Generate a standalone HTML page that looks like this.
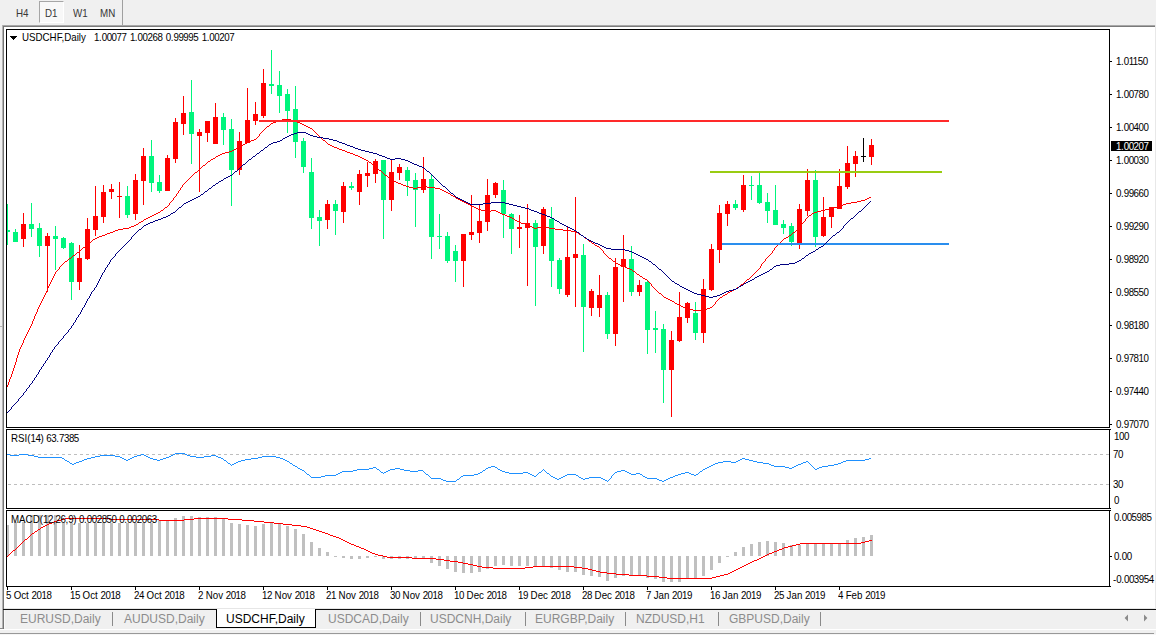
<!DOCTYPE html>
<html><head><meta charset="utf-8"><title>USDCHF,Daily</title>
<style>
html,body{margin:0;padding:0;background:#f0f0f0;}
#root{position:relative;width:1156px;height:635px;overflow:hidden;background:#f0f0f0;font-family:"Liberation Sans",sans-serif;}
.t{position:absolute;white-space:nowrap;line-height:1.15;}
.abs{position:absolute;}
.n{letter-spacing:-0.51px;}
.s{transform:scaleX(0.92);transform-origin:0 0;}
</style></head><body>
<div id="root">
<!-- toolbar -->
<div class="abs" style="left:39px;top:1px;width:23px;height:20px;border:1px solid #fff;border-top-color:#a6a6a6;border-left-color:#a6a6a6;background:#f8f8f8;"></div>
<div class="abs" style="left:122px;top:0;width:1px;height:25px;background:#a0a0a0;"></div>
<!-- window frame -->
<div class="abs" style="left:2px;top:25px;width:1153px;height:583px;background:#fff;"></div>
<div class="abs" style="left:2px;top:25px;width:1153px;height:1px;background:#a8a8a8;"></div>
<div class="abs" style="left:2px;top:26px;width:1153px;height:1px;background:#7a7a7a;"></div>
<div class="abs" style="left:2px;top:25px;width:1px;height:604px;background:#b4b4b4;"></div>
<div class="abs" style="left:3px;top:26px;width:1px;height:603px;background:#747474;"></div>
<div class="abs" style="left:1155px;top:25px;width:1px;height:584px;background:#e8e8e8;"></div>
<div class="abs" style="left:0;top:326px;width:2px;height:1px;background:#b4b4b4;"></div>
<!-- tab bar -->
<div class="abs" style="left:4px;top:608px;width:1152px;height:1px;background:#e6e6e6;"></div>
<div class="abs" style="left:3px;top:609px;width:1153px;height:1px;background:#101010;"></div>
<div class="abs" style="left:4px;top:610px;width:1px;height:18px;background:#fbfbfb;"></div>
<div class="abs" style="left:216px;top:609px;width:98px;height:18px;background:#fff;border:1px solid #000;border-top:none;"></div>
<div class="abs" style="left:112px;top:612px;width:1px;height:14px;background:#8a8a8a;"></div>
<div class="abs" style="left:420px;top:612px;width:1px;height:14px;background:#8a8a8a;"></div>
<div class="abs" style="left:525px;top:612px;width:1px;height:14px;background:#8a8a8a;"></div>
<div class="abs" style="left:625px;top:612px;width:1px;height:14px;background:#8a8a8a;"></div>
<div class="abs" style="left:718px;top:612px;width:1px;height:14px;background:#8a8a8a;"></div>
<div class="abs" style="left:820px;top:612px;width:1px;height:14px;background:#8a8a8a;"></div>
<div class="abs" style="left:0;top:628px;width:3px;height:1px;background:#8c8c8c;"></div>
<div class="abs" style="left:0;top:629px;width:1156px;height:1px;background:#ffffff;"></div>
<div class="abs" style="left:0;top:633px;width:1154px;height:1px;background:#989898;"></div>
<div class="abs" style="left:0;top:634px;width:1156px;height:1px;background:#f6f6f6;"></div>
<svg class="abs" style="left:0;top:0" width="1156" height="635" viewBox="0 0 1156 635">
<g shape-rendering="crispEdges"><rect x="7" y="204" width="1" height="41" fill="#00f57c"/><rect x="7" y="230" width="3" height="2" fill="#00f57c"/><rect x="15" y="229" width="1" height="13" fill="#00f57c"/><rect x="13" y="232" width="5" height="10" fill="#00f57c"/><rect x="23" y="213" width="1" height="34" fill="#ff0000"/><rect x="21" y="224" width="5" height="15" fill="#ff0000"/><rect x="31" y="203" width="1" height="34" fill="#00f57c"/><rect x="29" y="224" width="5" height="5" fill="#00f57c"/><rect x="39" y="223" width="1" height="34" fill="#00f57c"/><rect x="37" y="228" width="5" height="18" fill="#00f57c"/><rect x="47" y="233" width="1" height="59" fill="#ff0000"/><rect x="45" y="236" width="5" height="10" fill="#ff0000"/><rect x="55" y="226" width="1" height="44" fill="#00f57c"/><rect x="53" y="236" width="5" height="3" fill="#00f57c"/><rect x="63" y="237" width="1" height="12" fill="#00f57c"/><rect x="61" y="238" width="5" height="10" fill="#00f57c"/><rect x="71" y="242" width="1" height="58" fill="#00f57c"/><rect x="69" y="243" width="5" height="39" fill="#00f57c"/><rect x="79" y="245" width="1" height="45" fill="#ff0000"/><rect x="77" y="258" width="5" height="24" fill="#ff0000"/><rect x="87" y="218" width="1" height="42" fill="#ff0000"/><rect x="85" y="229" width="5" height="30" fill="#ff0000"/><rect x="95" y="186" width="1" height="50" fill="#ff0000"/><rect x="93" y="216" width="5" height="14" fill="#ff0000"/><rect x="103" y="185" width="1" height="38" fill="#ff0000"/><rect x="101" y="192" width="5" height="25" fill="#ff0000"/><rect x="111" y="184" width="1" height="15" fill="#ff0000"/><rect x="109" y="189" width="5" height="3" fill="#ff0000"/><rect x="119" y="182" width="1" height="36" fill="#ff0000"/><rect x="117" y="196" width="5" height="1" fill="#ff0000"/><rect x="127" y="186" width="1" height="32" fill="#00f57c"/><rect x="125" y="196" width="5" height="19" fill="#00f57c"/><rect x="135" y="174" width="1" height="46" fill="#ff0000"/><rect x="133" y="180" width="5" height="34" fill="#ff0000"/><rect x="143" y="148" width="1" height="57" fill="#ff0000"/><rect x="141" y="156" width="5" height="25" fill="#ff0000"/><rect x="151" y="140" width="1" height="52" fill="#00f57c"/><rect x="149" y="156" width="5" height="27" fill="#00f57c"/><rect x="159" y="175" width="1" height="18" fill="#00f57c"/><rect x="157" y="182" width="5" height="9" fill="#00f57c"/><rect x="167" y="155" width="1" height="36" fill="#ff0000"/><rect x="165" y="158" width="5" height="33" fill="#ff0000"/><rect x="175" y="118" width="1" height="45" fill="#ff0000"/><rect x="173" y="122" width="5" height="37" fill="#ff0000"/><rect x="183" y="96" width="1" height="39" fill="#ff0000"/><rect x="181" y="113" width="5" height="11" fill="#ff0000"/><rect x="191" y="80" width="1" height="84" fill="#00f57c"/><rect x="189" y="112" width="5" height="22" fill="#00f57c"/><rect x="199" y="129" width="1" height="63" fill="#ff0000"/><rect x="197" y="132" width="5" height="4" fill="#ff0000"/><rect x="207" y="121" width="1" height="21" fill="#ff0000"/><rect x="205" y="121" width="5" height="12" fill="#ff0000"/><rect x="215" y="103" width="1" height="41" fill="#ff0000"/><rect x="213" y="117" width="5" height="27" fill="#ff0000"/><rect x="223" y="113" width="1" height="32" fill="#00f57c"/><rect x="221" y="117" width="5" height="13" fill="#00f57c"/><rect x="231" y="119" width="1" height="87" fill="#00f57c"/><rect x="229" y="129" width="5" height="41" fill="#00f57c"/><rect x="239" y="132" width="1" height="43" fill="#ff0000"/><rect x="237" y="141" width="5" height="29" fill="#ff0000"/><rect x="247" y="88" width="1" height="55" fill="#ff0000"/><rect x="245" y="120" width="5" height="23" fill="#ff0000"/><rect x="255" y="102" width="1" height="23" fill="#ff0000"/><rect x="253" y="114" width="5" height="7" fill="#ff0000"/><rect x="263" y="69" width="1" height="49" fill="#ff0000"/><rect x="261" y="83" width="5" height="33" fill="#ff0000"/><rect x="271" y="50" width="1" height="44" fill="#00f57c"/><rect x="269" y="84" width="5" height="2" fill="#00f57c"/><rect x="279" y="71" width="1" height="42" fill="#00f57c"/><rect x="277" y="85" width="5" height="11" fill="#00f57c"/><rect x="287" y="89" width="1" height="44" fill="#00f57c"/><rect x="285" y="94" width="5" height="17" fill="#00f57c"/><rect x="295" y="86" width="1" height="72" fill="#00f57c"/><rect x="293" y="109" width="5" height="33" fill="#00f57c"/><rect x="303" y="138" width="1" height="35" fill="#00f57c"/><rect x="301" y="141" width="5" height="26" fill="#00f57c"/><rect x="311" y="158" width="1" height="71" fill="#00f57c"/><rect x="309" y="172" width="5" height="46" fill="#00f57c"/><rect x="319" y="210" width="1" height="36" fill="#00f57c"/><rect x="317" y="217" width="5" height="4" fill="#00f57c"/><rect x="327" y="200" width="1" height="29" fill="#ff0000"/><rect x="325" y="204" width="5" height="16" fill="#ff0000"/><rect x="335" y="200" width="1" height="35" fill="#00f57c"/><rect x="333" y="204" width="5" height="7" fill="#00f57c"/><rect x="343" y="182" width="1" height="41" fill="#ff0000"/><rect x="341" y="186" width="5" height="26" fill="#ff0000"/><rect x="351" y="182" width="1" height="8" fill="#00f57c"/><rect x="349" y="186" width="5" height="2" fill="#00f57c"/><rect x="359" y="170" width="1" height="35" fill="#ff0000"/><rect x="357" y="174" width="5" height="18" fill="#ff0000"/><rect x="367" y="162" width="1" height="25" fill="#ff0000"/><rect x="365" y="173" width="5" height="3" fill="#ff0000"/><rect x="375" y="159" width="1" height="24" fill="#ff0000"/><rect x="373" y="161" width="5" height="13" fill="#ff0000"/><rect x="383" y="160" width="1" height="79" fill="#00f57c"/><rect x="381" y="160" width="5" height="40" fill="#00f57c"/><rect x="391" y="159" width="1" height="52" fill="#ff0000"/><rect x="389" y="172" width="5" height="28" fill="#ff0000"/><rect x="399" y="164" width="1" height="16" fill="#ff0000"/><rect x="397" y="167" width="5" height="6" fill="#ff0000"/><rect x="407" y="167" width="1" height="29" fill="#00f57c"/><rect x="405" y="170" width="5" height="11" fill="#00f57c"/><rect x="415" y="173" width="1" height="54" fill="#00f57c"/><rect x="413" y="180" width="5" height="10" fill="#00f57c"/><rect x="423" y="157" width="1" height="36" fill="#ff0000"/><rect x="421" y="179" width="5" height="11" fill="#ff0000"/><rect x="431" y="175" width="1" height="84" fill="#00f57c"/><rect x="429" y="179" width="5" height="58" fill="#00f57c"/><rect x="439" y="214" width="1" height="35" fill="#00f57c"/><rect x="437" y="236" width="5" height="1" fill="#00f57c"/><rect x="447" y="232" width="1" height="31" fill="#00f57c"/><rect x="445" y="236" width="5" height="25" fill="#00f57c"/><rect x="455" y="245" width="1" height="37" fill="#00f57c"/><rect x="453" y="251" width="5" height="10" fill="#00f57c"/><rect x="463" y="234" width="1" height="53" fill="#ff0000"/><rect x="461" y="234" width="5" height="27" fill="#ff0000"/><rect x="471" y="195" width="1" height="45" fill="#ff0000"/><rect x="469" y="232" width="5" height="3" fill="#ff0000"/><rect x="479" y="205" width="1" height="38" fill="#ff0000"/><rect x="477" y="221" width="5" height="12" fill="#ff0000"/><rect x="487" y="179" width="1" height="52" fill="#ff0000"/><rect x="485" y="195" width="5" height="27" fill="#ff0000"/><rect x="495" y="182" width="1" height="16" fill="#ff0000"/><rect x="493" y="183" width="5" height="12" fill="#ff0000"/><rect x="503" y="180" width="1" height="58" fill="#00f57c"/><rect x="501" y="190" width="5" height="24" fill="#00f57c"/><rect x="511" y="213" width="1" height="41" fill="#00f57c"/><rect x="509" y="214" width="5" height="15" fill="#00f57c"/><rect x="519" y="215" width="1" height="33" fill="#ff0000"/><rect x="517" y="227" width="5" height="2" fill="#ff0000"/><rect x="527" y="204" width="1" height="82" fill="#ff0000"/><rect x="525" y="223" width="5" height="5" fill="#ff0000"/><rect x="535" y="220" width="1" height="86" fill="#00f57c"/><rect x="533" y="223" width="5" height="24" fill="#00f57c"/><rect x="543" y="207" width="1" height="47" fill="#ff0000"/><rect x="541" y="209" width="5" height="37" fill="#ff0000"/><rect x="551" y="207" width="1" height="80" fill="#00f57c"/><rect x="549" y="219" width="5" height="42" fill="#00f57c"/><rect x="559" y="258" width="1" height="36" fill="#00f57c"/><rect x="557" y="260" width="5" height="29" fill="#00f57c"/><rect x="567" y="226" width="1" height="71" fill="#ff0000"/><rect x="565" y="257" width="5" height="38" fill="#ff0000"/><rect x="575" y="197" width="1" height="110" fill="#ff0000"/><rect x="573" y="254" width="5" height="4" fill="#ff0000"/><rect x="583" y="244" width="1" height="108" fill="#00f57c"/><rect x="581" y="255" width="5" height="52" fill="#00f57c"/><rect x="591" y="289" width="1" height="27" fill="#ff0000"/><rect x="589" y="291" width="5" height="17" fill="#ff0000"/><rect x="599" y="275" width="1" height="42" fill="#ff0000"/><rect x="597" y="295" width="5" height="13" fill="#ff0000"/><rect x="607" y="292" width="1" height="47" fill="#00f57c"/><rect x="605" y="295" width="5" height="39" fill="#00f57c"/><rect x="615" y="258" width="1" height="88" fill="#ff0000"/><rect x="613" y="267" width="5" height="67" fill="#ff0000"/><rect x="623" y="235" width="1" height="67" fill="#ff0000"/><rect x="621" y="259" width="5" height="8" fill="#ff0000"/><rect x="631" y="246" width="1" height="50" fill="#00f57c"/><rect x="629" y="259" width="5" height="33" fill="#00f57c"/><rect x="639" y="280" width="1" height="16" fill="#ff0000"/><rect x="637" y="285" width="5" height="7" fill="#ff0000"/><rect x="647" y="281" width="1" height="73" fill="#00f57c"/><rect x="645" y="282" width="5" height="48" fill="#00f57c"/><rect x="655" y="311" width="1" height="42" fill="#00f57c"/><rect x="653" y="328" width="5" height="2" fill="#00f57c"/><rect x="663" y="324" width="1" height="79" fill="#00f57c"/><rect x="661" y="329" width="5" height="41" fill="#00f57c"/><rect x="671" y="331" width="1" height="86" fill="#ff0000"/><rect x="669" y="340" width="5" height="30" fill="#ff0000"/><rect x="679" y="292" width="1" height="50" fill="#ff0000"/><rect x="677" y="317" width="5" height="24" fill="#ff0000"/><rect x="687" y="302" width="1" height="21" fill="#ff0000"/><rect x="685" y="303" width="5" height="15" fill="#ff0000"/><rect x="695" y="302" width="1" height="38" fill="#00f57c"/><rect x="693" y="313" width="5" height="20" fill="#00f57c"/><rect x="703" y="279" width="1" height="64" fill="#ff0000"/><rect x="701" y="289" width="5" height="44" fill="#ff0000"/><rect x="711" y="244" width="1" height="47" fill="#ff0000"/><rect x="709" y="249" width="5" height="41" fill="#ff0000"/><rect x="719" y="205" width="1" height="58" fill="#ff0000"/><rect x="717" y="213" width="5" height="37" fill="#ff0000"/><rect x="727" y="201" width="1" height="25" fill="#ff0000"/><rect x="725" y="204" width="5" height="10" fill="#ff0000"/><rect x="735" y="200" width="1" height="10" fill="#00f57c"/><rect x="733" y="204" width="5" height="4" fill="#00f57c"/><rect x="743" y="175" width="1" height="37" fill="#ff0000"/><rect x="741" y="185" width="5" height="25" fill="#ff0000"/><rect x="751" y="176" width="1" height="24" fill="#00f57c"/><rect x="749" y="185" width="5" height="1" fill="#00f57c"/><rect x="759" y="172" width="1" height="32" fill="#00f57c"/><rect x="757" y="185" width="5" height="18" fill="#00f57c"/><rect x="767" y="193" width="1" height="30" fill="#00f57c"/><rect x="765" y="202" width="5" height="9" fill="#00f57c"/><rect x="775" y="185" width="1" height="40" fill="#00f57c"/><rect x="773" y="210" width="5" height="15" fill="#00f57c"/><rect x="783" y="220" width="1" height="14" fill="#00f57c"/><rect x="781" y="224" width="5" height="4" fill="#00f57c"/><rect x="791" y="223" width="1" height="23" fill="#00f57c"/><rect x="789" y="226" width="5" height="16" fill="#00f57c"/><rect x="799" y="204" width="1" height="45" fill="#ff0000"/><rect x="797" y="209" width="5" height="35" fill="#ff0000"/><rect x="807" y="169" width="1" height="47" fill="#ff0000"/><rect x="805" y="180" width="5" height="31" fill="#ff0000"/><rect x="815" y="170" width="1" height="77" fill="#00f57c"/><rect x="813" y="180" width="5" height="57" fill="#00f57c"/><rect x="823" y="197" width="1" height="40" fill="#ff0000"/><rect x="821" y="217" width="5" height="19" fill="#ff0000"/><rect x="831" y="207" width="1" height="21" fill="#ff0000"/><rect x="829" y="207" width="5" height="10" fill="#ff0000"/><rect x="839" y="169" width="1" height="40" fill="#ff0000"/><rect x="837" y="186" width="5" height="23" fill="#ff0000"/><rect x="847" y="146" width="1" height="43" fill="#ff0000"/><rect x="845" y="163" width="5" height="24" fill="#ff0000"/><rect x="855" y="151" width="1" height="26" fill="#ff0000"/><rect x="853" y="156" width="5" height="8" fill="#ff0000"/><rect x="863" y="138" width="1" height="24" fill="#000000"/><rect x="861" y="156" width="5" height="1" fill="#000000"/><rect x="871" y="139" width="1" height="26" fill="#ff0000"/><rect x="869" y="145" width="5" height="12" fill="#ff0000"/></g><path shape-rendering="crispEdges" fill="#ff0000" d="M282 119h9v1h-9zM280 120h2v1h-2zM291 120h3v1h-3zM276 121h4v1h-4zM294 121h3v1h-3zM273 122h3v1h-3zM297 122h3v1h-3zM271 123h2v1h-2zM300 123h2v1h-2zM270 124h1v1h-1zM302 124h2v1h-2zM269 125h1v1h-1zM304 125h2v1h-2zM267 126h2v1h-2zM306 126h2v1h-2zM266 127h1v1h-1zM308 127h2v1h-2zM265 128h1v1h-1zM310 128h2v1h-2zM264 129h1v1h-1zM312 129h1v1h-1zM263 130h1v1h-1zM313 130h1v1h-1zM262 131h1v1h-1zM314 131h1v1h-1zM261 132h1v1h-1zM315 132h1v1h-1zM260 133h1v1h-1zM316 133h1v1h-1zM259 134h1v1h-1zM317 134h1v1h-1zM259 135h1v1h-1zM318 135h1v1h-1zM258 136h1v1h-1zM319 136h1v1h-1zM257 137h1v1h-1zM320 137h1v1h-1zM256 138h1v1h-1zM321 138h1v1h-1zM254 139h2v1h-2zM322 139h1v1h-1zM251 140h3v1h-3zM323 140h2v1h-2zM249 141h2v1h-2zM325 141h1v1h-1zM247 142h2v1h-2zM326 142h1v1h-1zM245 143h2v1h-2zM327 143h1v1h-1zM243 144h2v1h-2zM328 144h2v1h-2zM242 145h1v1h-1zM330 145h2v1h-2zM240 146h2v1h-2zM332 146h2v1h-2zM238 147h2v1h-2zM334 147h3v1h-3zM236 148h2v1h-2zM337 148h2v1h-2zM234 149h2v1h-2zM339 149h3v1h-3zM232 150h2v1h-2zM342 150h3v1h-3zM229 151h3v1h-3zM345 151h2v1h-2zM225 152h4v1h-4zM347 152h3v1h-3zM222 153h3v1h-3zM350 153h3v1h-3zM220 154h2v1h-2zM353 154h2v1h-2zM218 155h2v1h-2zM355 155h3v1h-3zM216 156h2v1h-2zM358 156h2v1h-2zM215 157h1v1h-1zM360 157h2v1h-2zM213 158h2v1h-2zM362 158h2v1h-2zM211 159h2v1h-2zM364 159h2v1h-2zM210 160h1v1h-1zM366 160h2v1h-2zM208 161h2v1h-2zM368 161h1v1h-1zM207 162h1v1h-1zM369 162h2v1h-2zM206 163h1v1h-1zM371 163h1v1h-1zM205 164h1v1h-1zM372 164h1v1h-1zM203 165h2v1h-2zM373 165h2v1h-2zM202 166h1v1h-1zM375 166h1v1h-1zM201 167h1v1h-1zM376 167h1v1h-1zM200 168h1v1h-1zM377 168h1v1h-1zM199 169h1v1h-1zM378 169h1v1h-1zM198 170h1v1h-1zM379 170h2v1h-2zM197 171h1v1h-1zM381 171h1v1h-1zM195 172h2v1h-2zM382 172h1v1h-1zM194 173h1v1h-1zM383 173h1v1h-1zM193 174h1v1h-1zM384 174h1v1h-1zM192 175h1v1h-1zM385 175h2v1h-2zM191 176h1v1h-1zM387 176h1v1h-1zM190 177h1v1h-1zM388 177h1v1h-1zM189 178h1v1h-1zM389 178h2v1h-2zM188 179h1v1h-1zM391 179h1v1h-1zM187 180h1v1h-1zM392 180h2v1h-2zM186 181h1v1h-1zM394 181h2v1h-2zM185 182h1v1h-1zM396 182h2v1h-2zM184 183h1v1h-1zM398 183h3v1h-3zM183 184h1v1h-1zM401 184h2v1h-2zM182 185h1v1h-1zM403 185h3v1h-3zM182 186h1v1h-1zM406 186h3v1h-3zM421 186h6v1h-6zM181 187h1v1h-1zM409 187h4v1h-4zM417 187h4v1h-4zM427 187h8v1h-8zM180 188h1v1h-1zM413 188h4v1h-4zM435 188h5v1h-5zM180 189h1v1h-1zM440 189h2v1h-2zM179 190h1v1h-1zM442 190h2v1h-2zM178 191h1v1h-1zM444 191h2v1h-2zM178 192h1v1h-1zM446 192h2v1h-2zM177 193h1v1h-1zM448 193h2v1h-2zM176 194h1v1h-1zM450 194h1v1h-1zM176 195h1v1h-1zM451 195h2v1h-2zM175 196h1v1h-1zM453 196h2v1h-2zM174 197h1v1h-1zM455 197h1v1h-1zM869 197h2v1h-2zM173 198h1v1h-1zM456 198h2v1h-2zM867 198h2v1h-2zM173 199h1v1h-1zM458 199h2v1h-2zM865 199h2v1h-2zM172 200h1v1h-1zM460 200h2v1h-2zM861 200h4v1h-4zM171 201h1v1h-1zM462 201h2v1h-2zM857 201h4v1h-4zM170 202h1v1h-1zM464 202h2v1h-2zM851 202h6v1h-6zM169 203h1v1h-1zM466 203h2v1h-2zM846 203h5v1h-5zM169 204h1v1h-1zM468 204h2v1h-2zM843 204h3v1h-3zM168 205h1v1h-1zM470 205h2v1h-2zM841 205h2v1h-2zM167 206h1v1h-1zM472 206h2v1h-2zM837 206h4v1h-4zM165 207h2v1h-2zM474 207h2v1h-2zM833 207h4v1h-4zM164 208h1v1h-1zM476 208h2v1h-2zM829 208h4v1h-4zM163 209h1v1h-1zM478 209h3v1h-3zM825 209h4v1h-4zM161 210h2v1h-2zM481 210h4v1h-4zM491 210h5v1h-5zM821 210h4v1h-4zM160 211h1v1h-1zM485 211h6v1h-6zM496 211h2v1h-2zM817 211h4v1h-4zM158 212h2v1h-2zM498 212h2v1h-2zM814 212h3v1h-3zM156 213h2v1h-2zM500 213h2v1h-2zM812 213h2v1h-2zM154 214h2v1h-2zM502 214h3v1h-3zM811 214h1v1h-1zM152 215h2v1h-2zM505 215h2v1h-2zM809 215h2v1h-2zM150 216h2v1h-2zM507 216h3v1h-3zM808 216h1v1h-1zM148 217h2v1h-2zM510 217h2v1h-2zM807 217h1v1h-1zM146 218h2v1h-2zM512 218h2v1h-2zM806 218h1v1h-1zM144 219h2v1h-2zM514 219h1v1h-1zM805 219h1v1h-1zM143 220h1v1h-1zM515 220h2v1h-2zM805 220h1v1h-1zM141 221h2v1h-2zM517 221h2v1h-2zM804 221h1v1h-1zM139 222h2v1h-2zM519 222h2v1h-2zM803 222h1v1h-1zM138 223h1v1h-1zM521 223h4v1h-4zM802 223h1v1h-1zM136 224h2v1h-2zM525 224h3v1h-3zM801 224h1v1h-1zM134 225h2v1h-2zM528 225h2v1h-2zM800 225h1v1h-1zM131 226h3v1h-3zM530 226h2v1h-2zM541 226h4v1h-4zM799 226h1v1h-1zM129 227h2v1h-2zM532 227h2v1h-2zM537 227h4v1h-4zM545 227h4v1h-4zM798 227h1v1h-1zM123 228h6v1h-6zM534 228h3v1h-3zM549 228h6v1h-6zM798 228h1v1h-1zM118 229h5v1h-5zM555 229h8v1h-8zM797 229h1v1h-1zM115 230h3v1h-3zM563 230h8v1h-8zM796 230h1v1h-1zM113 231h2v1h-2zM571 231h5v1h-5zM795 231h1v1h-1zM110 232h3v1h-3zM576 232h2v1h-2zM793 232h2v1h-2zM107 233h3v1h-3zM578 233h1v1h-1zM792 233h1v1h-1zM105 234h2v1h-2zM579 234h2v1h-2zM791 234h1v1h-1zM102 235h3v1h-3zM581 235h2v1h-2zM789 235h2v1h-2zM99 236h3v1h-3zM583 236h1v1h-1zM788 236h1v1h-1zM97 237h2v1h-2zM584 237h1v1h-1zM786 237h2v1h-2zM95 238h2v1h-2zM585 238h2v1h-2zM784 238h2v1h-2zM93 239h2v1h-2zM587 239h1v1h-1zM783 239h1v1h-1zM92 240h1v1h-1zM588 240h1v1h-1zM782 240h1v1h-1zM91 241h1v1h-1zM589 241h2v1h-2zM781 241h1v1h-1zM89 242h2v1h-2zM591 242h1v1h-1zM780 242h1v1h-1zM88 243h1v1h-1zM592 243h2v1h-2zM779 243h1v1h-1zM87 244h1v1h-1zM594 244h1v1h-1zM778 244h1v1h-1zM86 245h1v1h-1zM595 245h2v1h-2zM777 245h1v1h-1zM85 246h1v1h-1zM597 246h2v1h-2zM776 246h1v1h-1zM83 247h2v1h-2zM599 247h1v1h-1zM775 247h1v1h-1zM82 248h1v1h-1zM600 248h1v1h-1zM774 248h1v1h-1zM81 249h1v1h-1zM601 249h1v1h-1zM774 249h1v1h-1zM80 250h1v1h-1zM602 250h1v1h-1zM773 250h1v1h-1zM79 251h1v1h-1zM603 251h1v1h-1zM772 251h1v1h-1zM77 252h2v1h-2zM603 252h1v1h-1zM772 252h1v1h-1zM76 253h1v1h-1zM604 253h1v1h-1zM771 253h1v1h-1zM75 254h1v1h-1zM605 254h1v1h-1zM770 254h1v1h-1zM73 255h2v1h-2zM606 255h1v1h-1zM769 255h1v1h-1zM72 256h1v1h-1zM607 256h1v1h-1zM768 256h1v1h-1zM71 257h1v1h-1zM608 257h1v1h-1zM767 257h1v1h-1zM69 258h2v1h-2zM609 258h2v1h-2zM766 258h1v1h-1zM68 259h1v1h-1zM611 259h1v1h-1zM765 259h1v1h-1zM67 260h1v1h-1zM612 260h1v1h-1zM765 260h1v1h-1zM65 261h2v1h-2zM613 261h2v1h-2zM764 261h1v1h-1zM64 262h1v1h-1zM615 262h1v1h-1zM763 262h1v1h-1zM63 263h1v1h-1zM616 263h2v1h-2zM762 263h1v1h-1zM62 264h1v1h-1zM618 264h2v1h-2zM761 264h1v1h-1zM61 265h1v1h-1zM620 265h2v1h-2zM761 265h1v1h-1zM60 266h1v1h-1zM622 266h3v1h-3zM760 266h1v1h-1zM59 267h1v1h-1zM625 267h2v1h-2zM760 267h1v1h-1zM59 268h1v1h-1zM627 268h3v1h-3zM759 268h1v1h-1zM58 269h1v1h-1zM630 269h2v1h-2zM758 269h1v1h-1zM57 270h1v1h-1zM632 270h1v1h-1zM757 270h1v1h-1zM56 271h1v1h-1zM633 271h2v1h-2zM756 271h1v1h-1zM55 272h1v1h-1zM635 272h1v1h-1zM755 272h1v1h-1zM55 273h1v1h-1zM636 273h1v1h-1zM754 273h1v1h-1zM54 274h1v1h-1zM637 274h2v1h-2zM753 274h1v1h-1zM54 275h1v1h-1zM639 275h1v1h-1zM752 275h1v1h-1zM53 276h1v1h-1zM640 276h2v1h-2zM751 276h1v1h-1zM53 277h1v1h-1zM642 277h1v1h-1zM750 277h1v1h-1zM52 278h1v1h-1zM643 278h2v1h-2zM749 278h1v1h-1zM52 279h1v1h-1zM645 279h2v1h-2zM747 279h2v1h-2zM51 280h1v1h-1zM647 280h1v1h-1zM746 280h1v1h-1zM51 281h1v1h-1zM648 281h1v1h-1zM745 281h1v1h-1zM50 282h1v1h-1zM649 282h1v1h-1zM744 282h1v1h-1zM50 283h1v1h-1zM650 283h1v1h-1zM743 283h1v1h-1zM49 284h1v1h-1zM651 284h1v1h-1zM741 284h2v1h-2zM49 285h1v1h-1zM651 285h1v1h-1zM740 285h1v1h-1zM48 286h1v1h-1zM652 286h1v1h-1zM739 286h1v1h-1zM48 287h1v1h-1zM653 287h1v1h-1zM737 287h2v1h-2zM47 288h1v1h-1zM654 288h1v1h-1zM736 288h1v1h-1zM47 289h1v1h-1zM655 289h1v1h-1zM734 289h2v1h-2zM47 290h1v1h-1zM656 290h1v1h-1zM732 290h2v1h-2zM46 291h1v1h-1zM657 291h1v1h-1zM730 291h2v1h-2zM46 292h1v1h-1zM658 292h1v1h-1zM728 292h2v1h-2zM45 293h1v1h-1zM659 293h2v1h-2zM727 293h1v1h-1zM45 294h1v1h-1zM661 294h1v1h-1zM725 294h2v1h-2zM44 295h1v1h-1zM662 295h1v1h-1zM723 295h2v1h-2zM44 296h1v1h-1zM663 296h1v1h-1zM722 296h1v1h-1zM43 297h1v1h-1zM664 297h2v1h-2zM720 297h2v1h-2zM43 298h1v1h-1zM666 298h2v1h-2zM719 298h1v1h-1zM42 299h1v1h-1zM668 299h2v1h-2zM718 299h1v1h-1zM42 300h1v1h-1zM670 300h2v1h-2zM717 300h1v1h-1zM41 301h1v1h-1zM672 301h2v1h-2zM716 301h1v1h-1zM41 302h1v1h-1zM674 302h1v1h-1zM715 302h1v1h-1zM40 303h1v1h-1zM675 303h2v1h-2zM715 303h1v1h-1zM40 304h1v1h-1zM677 304h2v1h-2zM714 304h1v1h-1zM39 305h1v1h-1zM679 305h2v1h-2zM713 305h1v1h-1zM39 306h1v1h-1zM681 306h2v1h-2zM712 306h1v1h-1zM38 307h1v1h-1zM683 307h3v1h-3zM710 307h2v1h-2zM38 308h1v1h-1zM686 308h3v1h-3zM707 308h3v1h-3zM37 309h1v1h-1zM689 309h4v1h-4zM705 309h2v1h-2zM37 310h1v1h-1zM693 310h12v1h-12zM37 311h1v1h-1zM36 312h1v1h-1zM36 313h1v1h-1zM35 314h1v1h-1zM35 315h1v1h-1zM34 316h1v1h-1zM34 317h1v1h-1zM34 318h1v1h-1zM33 319h1v1h-1zM33 320h1v1h-1zM32 321h1v1h-1zM32 322h1v1h-1zM32 323h1v1h-1zM31 324h1v1h-1zM31 325h1v1h-1zM30 326h1v1h-1zM30 327h1v1h-1zM29 328h1v1h-1zM29 329h1v1h-1zM28 330h1v1h-1zM28 331h1v1h-1zM27 332h1v1h-1zM27 333h1v1h-1zM26 334h1v1h-1zM26 335h1v1h-1zM25 336h1v1h-1zM25 337h1v1h-1zM24 338h1v1h-1zM24 339h1v1h-1zM23 340h1v1h-1zM23 341h1v1h-1zM23 342h1v1h-1zM22 343h1v1h-1zM22 344h1v1h-1zM21 345h1v1h-1zM21 346h1v1h-1zM20 347h1v1h-1zM20 348h1v1h-1zM19 349h1v1h-1zM19 350h1v1h-1zM19 351h1v1h-1zM18 352h1v1h-1zM18 353h1v1h-1zM18 354h1v1h-1zM17 355h1v1h-1zM17 356h1v1h-1zM17 357h1v1h-1zM16 358h1v1h-1zM16 359h1v1h-1zM16 360h1v1h-1zM16 361h1v1h-1zM15 362h1v1h-1zM15 363h1v1h-1zM15 364h1v1h-1zM14 365h1v1h-1zM14 366h1v1h-1zM14 367h1v1h-1zM13 368h1v1h-1zM13 369h1v1h-1zM13 370h1v1h-1zM12 371h1v1h-1zM12 372h1v1h-1zM12 373h1v1h-1zM11 374h1v1h-1zM11 375h1v1h-1zM11 376h1v1h-1zM10 377h1v1h-1zM10 378h1v1h-1zM9 379h1v1h-1zM9 380h1v1h-1zM9 381h1v1h-1zM8 382h1v1h-1zM8 383h1v1h-1zM8 384h1v1h-1zM7 385h1v1h-1zM7 386h1v1h-1z"/><g shape-rendering="crispEdges"><rect x="259" y="120" width="690" height="2" fill="#ff2a2a"/><rect x="710" y="171" width="232" height="2" fill="#99cc12"/><rect x="722" y="243" width="227" height="2" fill="#2a8eee"/></g><path shape-rendering="crispEdges" fill="#000080" d="M297 132h9v1h-9zM294 133h3v1h-3zM306 133h2v1h-2zM291 134h3v1h-3zM308 134h2v1h-2zM289 135h2v1h-2zM310 135h3v1h-3zM287 136h2v1h-2zM313 136h4v1h-4zM285 137h2v1h-2zM317 137h6v1h-6zM283 138h2v1h-2zM323 138h6v1h-6zM282 139h1v1h-1zM329 139h4v1h-4zM280 140h2v1h-2zM333 140h4v1h-4zM277 141h3v1h-3zM337 141h2v1h-2zM273 142h4v1h-4zM339 142h3v1h-3zM271 143h2v1h-2zM342 143h3v1h-3zM269 144h2v1h-2zM345 144h2v1h-2zM268 145h1v1h-1zM347 145h3v1h-3zM267 146h1v1h-1zM350 146h3v1h-3zM265 147h2v1h-2zM353 147h2v1h-2zM264 148h1v1h-1zM355 148h3v1h-3zM263 149h1v1h-1zM358 149h3v1h-3zM261 150h2v1h-2zM361 150h4v1h-4zM260 151h1v1h-1zM365 151h4v1h-4zM259 152h1v1h-1zM369 152h4v1h-4zM257 153h2v1h-2zM373 153h4v1h-4zM256 154h1v1h-1zM377 154h2v1h-2zM255 155h1v1h-1zM379 155h3v1h-3zM253 156h2v1h-2zM382 156h3v1h-3zM252 157h1v1h-1zM385 157h2v1h-2zM251 158h1v1h-1zM387 158h3v1h-3zM395 158h6v1h-6zM249 159h2v1h-2zM390 159h5v1h-5zM401 159h4v1h-4zM248 160h1v1h-1zM405 160h3v1h-3zM247 161h1v1h-1zM408 161h2v1h-2zM246 162h1v1h-1zM410 162h2v1h-2zM245 163h1v1h-1zM412 163h2v1h-2zM243 164h2v1h-2zM414 164h3v1h-3zM242 165h1v1h-1zM417 165h2v1h-2zM241 166h1v1h-1zM419 166h3v1h-3zM240 167h1v1h-1zM422 167h2v1h-2zM239 168h1v1h-1zM424 168h1v1h-1zM238 169h1v1h-1zM425 169h1v1h-1zM237 170h1v1h-1zM426 170h1v1h-1zM235 171h2v1h-2zM427 171h2v1h-2zM234 172h1v1h-1zM429 172h1v1h-1zM233 173h1v1h-1zM430 173h1v1h-1zM232 174h1v1h-1zM431 174h1v1h-1zM230 175h2v1h-2zM432 175h1v1h-1zM228 176h2v1h-2zM433 176h1v1h-1zM226 177h2v1h-2zM434 177h1v1h-1zM224 178h2v1h-2zM435 178h1v1h-1zM223 179h1v1h-1zM436 179h1v1h-1zM221 180h2v1h-2zM437 180h1v1h-1zM219 181h2v1h-2zM438 181h1v1h-1zM218 182h1v1h-1zM439 182h1v1h-1zM216 183h2v1h-2zM440 183h1v1h-1zM215 184h1v1h-1zM441 184h1v1h-1zM213 185h2v1h-2zM442 185h1v1h-1zM212 186h1v1h-1zM443 186h2v1h-2zM211 187h1v1h-1zM445 187h1v1h-1zM209 188h2v1h-2zM446 188h1v1h-1zM208 189h1v1h-1zM447 189h1v1h-1zM207 190h1v1h-1zM448 190h1v1h-1zM205 191h2v1h-2zM449 191h1v1h-1zM204 192h1v1h-1zM450 192h1v1h-1zM203 193h1v1h-1zM451 193h2v1h-2zM201 194h2v1h-2zM453 194h1v1h-1zM200 195h1v1h-1zM454 195h1v1h-1zM198 196h2v1h-2zM455 196h1v1h-1zM196 197h2v1h-2zM456 197h2v1h-2zM194 198h2v1h-2zM458 198h2v1h-2zM192 199h2v1h-2zM460 199h2v1h-2zM190 200h2v1h-2zM462 200h2v1h-2zM188 201h2v1h-2zM464 201h2v1h-2zM870 201h1v1h-1zM186 202h2v1h-2zM466 202h2v1h-2zM491 202h14v1h-14zM869 202h1v1h-1zM184 203h2v1h-2zM468 203h2v1h-2zM483 203h8v1h-8zM505 203h4v1h-4zM868 203h1v1h-1zM183 204h1v1h-1zM470 204h13v1h-13zM509 204h4v1h-4zM867 204h1v1h-1zM182 205h1v1h-1zM513 205h4v1h-4zM866 205h1v1h-1zM181 206h1v1h-1zM517 206h4v1h-4zM865 206h1v1h-1zM179 207h2v1h-2zM521 207h4v1h-4zM864 207h1v1h-1zM178 208h1v1h-1zM525 208h4v1h-4zM863 208h1v1h-1zM177 209h1v1h-1zM529 209h2v1h-2zM862 209h1v1h-1zM176 210h1v1h-1zM531 210h3v1h-3zM861 210h1v1h-1zM175 211h1v1h-1zM534 211h3v1h-3zM859 211h2v1h-2zM173 212h2v1h-2zM537 212h2v1h-2zM858 212h1v1h-1zM171 213h2v1h-2zM539 213h3v1h-3zM857 213h1v1h-1zM170 214h1v1h-1zM542 214h3v1h-3zM856 214h1v1h-1zM168 215h2v1h-2zM545 215h2v1h-2zM855 215h1v1h-1zM166 216h2v1h-2zM547 216h3v1h-3zM854 216h1v1h-1zM163 217h3v1h-3zM550 217h2v1h-2zM853 217h1v1h-1zM161 218h2v1h-2zM552 218h2v1h-2zM851 218h2v1h-2zM158 219h3v1h-3zM554 219h1v1h-1zM850 219h1v1h-1zM155 220h3v1h-3zM555 220h2v1h-2zM849 220h1v1h-1zM153 221h2v1h-2zM557 221h2v1h-2zM848 221h1v1h-1zM150 222h3v1h-3zM559 222h1v1h-1zM847 222h1v1h-1zM148 223h2v1h-2zM560 223h2v1h-2zM846 223h1v1h-1zM146 224h2v1h-2zM562 224h2v1h-2zM845 224h1v1h-1zM144 225h2v1h-2zM564 225h2v1h-2zM844 225h1v1h-1zM143 226h1v1h-1zM566 226h2v1h-2zM843 226h1v1h-1zM142 227h1v1h-1zM568 227h2v1h-2zM843 227h1v1h-1zM141 228h1v1h-1zM570 228h2v1h-2zM842 228h1v1h-1zM139 229h2v1h-2zM572 229h2v1h-2zM841 229h1v1h-1zM138 230h1v1h-1zM574 230h2v1h-2zM840 230h1v1h-1zM137 231h1v1h-1zM576 231h1v1h-1zM839 231h1v1h-1zM136 232h1v1h-1zM577 232h2v1h-2zM837 232h2v1h-2zM135 233h1v1h-1zM579 233h1v1h-1zM836 233h1v1h-1zM134 234h1v1h-1zM580 234h1v1h-1zM835 234h1v1h-1zM133 235h1v1h-1zM581 235h2v1h-2zM833 235h2v1h-2zM132 236h1v1h-1zM583 236h1v1h-1zM832 236h1v1h-1zM131 237h1v1h-1zM584 237h2v1h-2zM831 237h1v1h-1zM131 238h1v1h-1zM586 238h1v1h-1zM830 238h1v1h-1zM130 239h1v1h-1zM587 239h2v1h-2zM829 239h1v1h-1zM129 240h1v1h-1zM589 240h2v1h-2zM828 240h1v1h-1zM128 241h1v1h-1zM591 241h2v1h-2zM827 241h1v1h-1zM127 242h1v1h-1zM593 242h2v1h-2zM826 242h1v1h-1zM126 243h1v1h-1zM595 243h3v1h-3zM825 243h1v1h-1zM125 244h1v1h-1zM598 244h2v1h-2zM824 244h1v1h-1zM124 245h1v1h-1zM600 245h2v1h-2zM823 245h1v1h-1zM123 246h1v1h-1zM602 246h2v1h-2zM821 246h2v1h-2zM122 247h1v1h-1zM604 247h2v1h-2zM819 247h2v1h-2zM121 248h1v1h-1zM606 248h5v1h-5zM818 248h1v1h-1zM120 249h1v1h-1zM611 249h14v1h-14zM816 249h2v1h-2zM119 250h1v1h-1zM625 250h4v1h-4zM815 250h1v1h-1zM118 251h1v1h-1zM629 251h3v1h-3zM813 251h2v1h-2zM117 252h1v1h-1zM632 252h2v1h-2zM811 252h2v1h-2zM116 253h1v1h-1zM634 253h2v1h-2zM809 253h2v1h-2zM115 254h1v1h-1zM636 254h2v1h-2zM808 254h1v1h-1zM115 255h1v1h-1zM638 255h2v1h-2zM806 255h2v1h-2zM114 256h1v1h-1zM640 256h2v1h-2zM805 256h1v1h-1zM113 257h1v1h-1zM642 257h2v1h-2zM804 257h1v1h-1zM112 258h1v1h-1zM644 258h2v1h-2zM802 258h2v1h-2zM111 259h1v1h-1zM646 259h2v1h-2zM801 259h1v1h-1zM110 260h1v1h-1zM648 260h1v1h-1zM799 260h2v1h-2zM110 261h1v1h-1zM649 261h2v1h-2zM797 261h2v1h-2zM109 262h1v1h-1zM651 262h1v1h-1zM795 262h2v1h-2zM109 263h1v1h-1zM652 263h1v1h-1zM789 263h6v1h-6zM108 264h1v1h-1zM653 264h2v1h-2zM780 264h9v1h-9zM107 265h1v1h-1zM655 265h1v1h-1zM776 265h4v1h-4zM107 266h1v1h-1zM656 266h1v1h-1zM774 266h2v1h-2zM106 267h1v1h-1zM657 267h1v1h-1zM773 267h1v1h-1zM105 268h1v1h-1zM658 268h1v1h-1zM772 268h1v1h-1zM105 269h1v1h-1zM659 269h2v1h-2zM770 269h2v1h-2zM104 270h1v1h-1zM661 270h1v1h-1zM769 270h1v1h-1zM104 271h1v1h-1zM662 271h1v1h-1zM767 271h2v1h-2zM103 272h1v1h-1zM663 272h1v1h-1zM765 272h2v1h-2zM102 273h1v1h-1zM664 273h1v1h-1zM763 273h2v1h-2zM102 274h1v1h-1zM665 274h1v1h-1zM761 274h2v1h-2zM101 275h1v1h-1zM666 275h1v1h-1zM759 275h2v1h-2zM101 276h1v1h-1zM667 276h1v1h-1zM757 276h2v1h-2zM100 277h1v1h-1zM668 277h1v1h-1zM755 277h2v1h-2zM100 278h1v1h-1zM669 278h1v1h-1zM754 278h1v1h-1zM99 279h1v1h-1zM670 279h1v1h-1zM752 279h2v1h-2zM99 280h1v1h-1zM671 280h1v1h-1zM750 280h2v1h-2zM98 281h1v1h-1zM672 281h2v1h-2zM748 281h2v1h-2zM98 282h1v1h-1zM674 282h1v1h-1zM746 282h2v1h-2zM97 283h1v1h-1zM675 283h2v1h-2zM744 283h2v1h-2zM97 284h1v1h-1zM677 284h2v1h-2zM743 284h1v1h-1zM96 285h1v1h-1zM679 285h1v1h-1zM741 285h2v1h-2zM96 286h1v1h-1zM680 286h2v1h-2zM739 286h2v1h-2zM95 287h1v1h-1zM682 287h2v1h-2zM738 287h1v1h-1zM94 288h1v1h-1zM684 288h2v1h-2zM736 288h2v1h-2zM94 289h1v1h-1zM686 289h2v1h-2zM733 289h3v1h-3zM93 290h1v1h-1zM688 290h2v1h-2zM729 290h4v1h-4zM92 291h1v1h-1zM690 291h2v1h-2zM726 291h3v1h-3zM91 292h1v1h-1zM692 292h2v1h-2zM724 292h2v1h-2zM91 293h1v1h-1zM694 293h3v1h-3zM722 293h2v1h-2zM90 294h1v1h-1zM697 294h4v1h-4zM720 294h2v1h-2zM90 295h1v1h-1zM701 295h4v1h-4zM717 295h3v1h-3zM89 296h1v1h-1zM705 296h4v1h-4zM713 296h4v1h-4zM89 297h1v1h-1zM709 297h4v1h-4zM88 298h1v1h-1zM87 299h1v1h-1zM87 300h1v1h-1zM86 301h1v1h-1zM86 302h1v1h-1zM85 303h1v1h-1zM85 304h1v1h-1zM84 305h1v1h-1zM84 306h1v1h-1zM83 307h1v1h-1zM82 308h1v1h-1zM82 309h1v1h-1zM81 310h1v1h-1zM81 311h1v1h-1zM80 312h1v1h-1zM80 313h1v1h-1zM79 314h1v1h-1zM78 315h1v1h-1zM78 316h1v1h-1zM77 317h1v1h-1zM76 318h1v1h-1zM76 319h1v1h-1zM75 320h1v1h-1zM75 321h1v1h-1zM74 322h1v1h-1zM73 323h1v1h-1zM73 324h1v1h-1zM72 325h1v1h-1zM71 326h1v1h-1zM71 327h1v1h-1zM70 328h1v1h-1zM69 329h1v1h-1zM68 330h1v1h-1zM68 331h1v1h-1zM67 332h1v1h-1zM66 333h1v1h-1zM65 334h1v1h-1zM64 335h1v1h-1zM63 336h1v1h-1zM63 337h1v1h-1zM62 338h1v1h-1zM61 339h1v1h-1zM60 340h1v1h-1zM59 341h1v1h-1zM58 342h1v1h-1zM58 343h1v1h-1zM57 344h1v1h-1zM56 345h1v1h-1zM55 346h1v1h-1zM54 347h1v1h-1zM54 348h1v1h-1zM53 349h1v1h-1zM52 350h1v1h-1zM52 351h1v1h-1zM51 352h1v1h-1zM50 353h1v1h-1zM50 354h1v1h-1zM49 355h1v1h-1zM49 356h1v1h-1zM48 357h1v1h-1zM47 358h1v1h-1zM47 359h1v1h-1zM46 360h1v1h-1zM45 361h1v1h-1zM45 362h1v1h-1zM44 363h1v1h-1zM43 364h1v1h-1zM43 365h1v1h-1zM42 366h1v1h-1zM41 367h1v1h-1zM41 368h1v1h-1zM40 369h1v1h-1zM39 370h1v1h-1zM39 371h1v1h-1zM38 372h1v1h-1zM38 373h1v1h-1zM37 374h1v1h-1zM36 375h1v1h-1zM36 376h1v1h-1zM35 377h1v1h-1zM34 378h1v1h-1zM34 379h1v1h-1zM33 380h1v1h-1zM32 381h1v1h-1zM32 382h1v1h-1zM31 383h1v1h-1zM30 384h1v1h-1zM29 385h1v1h-1zM29 386h1v1h-1zM28 387h1v1h-1zM27 388h1v1h-1zM26 389h1v1h-1zM26 390h1v1h-1zM25 391h1v1h-1zM24 392h1v1h-1zM23 393h1v1h-1zM23 394h1v1h-1zM22 395h1v1h-1zM21 396h1v1h-1zM20 397h1v1h-1zM19 398h1v1h-1zM18 399h1v1h-1zM18 400h1v1h-1zM17 401h1v1h-1zM16 402h1v1h-1zM15 403h1v1h-1zM14 404h1v1h-1zM13 405h1v1h-1zM12 406h1v1h-1zM11 407h1v1h-1zM11 408h1v1h-1zM10 409h1v1h-1zM9 410h1v1h-1zM8 411h1v1h-1zM7 412h1v1h-1z"/><g shape-rendering="crispEdges" stroke="#bebebe" stroke-width="1" stroke-dasharray="3 3"><line x1="8" y1="454.5" x2="1109" y2="454.5"/><line x1="8" y1="484.5" x2="1109" y2="484.5"/></g><path shape-rendering="crispEdges" fill="#1e90ff" d="M175 453h10v1h-10zM6 454h4v1h-4zM19 454h9v1h-9zM141 454h3v1h-3zM173 454h2v1h-2zM185 454h2v1h-2zM10 455h9v1h-9zM28 455h6v1h-6zM100 455h15v1h-15zM137 455h4v1h-4zM144 455h2v1h-2zM171 455h2v1h-2zM187 455h3v1h-3zM211 455h5v1h-5zM34 456h4v1h-4zM95 456h5v1h-5zM115 456h5v1h-5zM134 456h3v1h-3zM146 456h2v1h-2zM169 456h2v1h-2zM190 456h6v1h-6zM204 456h7v1h-7zM216 456h2v1h-2zM262 456h14v1h-14zM38 457h24v1h-24zM91 457h4v1h-4zM120 457h2v1h-2zM132 457h2v1h-2zM148 457h2v1h-2zM166 457h3v1h-3zM196 457h8v1h-8zM218 457h3v1h-3zM258 457h4v1h-4zM276 457h4v1h-4zM62 458h2v1h-2zM87 458h4v1h-4zM122 458h2v1h-2zM130 458h2v1h-2zM150 458h3v1h-3zM163 458h3v1h-3zM221 458h2v1h-2zM251 458h7v1h-7zM280 458h3v1h-3zM742 458h3v1h-3zM869 458h2v1h-2zM64 459h1v1h-1zM84 459h3v1h-3zM124 459h2v1h-2zM128 459h2v1h-2zM153 459h4v1h-4zM160 459h3v1h-3zM223 459h1v1h-1zM245 459h6v1h-6zM283 459h2v1h-2zM740 459h2v1h-2zM745 459h4v1h-4zM865 459h4v1h-4zM65 460h2v1h-2zM82 460h2v1h-2zM126 460h2v1h-2zM157 460h3v1h-3zM224 460h2v1h-2zM241 460h4v1h-4zM285 460h2v1h-2zM738 460h2v1h-2zM749 460h4v1h-4zM846 460h19v1h-19zM67 461h2v1h-2zM79 461h3v1h-3zM226 461h1v1h-1zM238 461h3v1h-3zM287 461h2v1h-2zM723 461h8v1h-8zM736 461h2v1h-2zM753 461h4v1h-4zM806 461h2v1h-2zM843 461h3v1h-3zM69 462h1v1h-1zM76 462h3v1h-3zM227 462h1v1h-1zM236 462h2v1h-2zM289 462h1v1h-1zM718 462h5v1h-5zM731 462h5v1h-5zM757 462h6v1h-6zM803 462h3v1h-3zM808 462h1v1h-1zM841 462h2v1h-2zM70 463h2v1h-2zM74 463h2v1h-2zM228 463h2v1h-2zM234 463h2v1h-2zM290 463h2v1h-2zM715 463h3v1h-3zM763 463h6v1h-6zM801 463h2v1h-2zM809 463h1v1h-1zM838 463h3v1h-3zM72 464h2v1h-2zM230 464h1v1h-1zM232 464h2v1h-2zM292 464h1v1h-1zM713 464h2v1h-2zM769 464h2v1h-2zM798 464h3v1h-3zM810 464h1v1h-1zM834 464h4v1h-4zM231 465h1v1h-1zM293 465h2v1h-2zM711 465h2v1h-2zM771 465h3v1h-3zM796 465h2v1h-2zM811 465h1v1h-1zM828 465h6v1h-6zM295 466h2v1h-2zM491 466h4v1h-4zM709 466h2v1h-2zM774 466h11v1h-11zM794 466h2v1h-2zM812 466h1v1h-1zM822 466h6v1h-6zM297 467h1v1h-1zM373 467h3v1h-3zM488 467h3v1h-3zM495 467h2v1h-2zM707 467h2v1h-2zM785 467h4v1h-4zM792 467h2v1h-2zM813 467h1v1h-1zM819 467h3v1h-3zM298 468h2v1h-2zM369 468h4v1h-4zM376 468h1v1h-1zM395 468h5v1h-5zM486 468h2v1h-2zM497 468h1v1h-1zM705 468h2v1h-2zM789 468h3v1h-3zM814 468h1v1h-1zM817 468h2v1h-2zM300 469h2v1h-2zM357 469h12v1h-12zM377 469h2v1h-2zM390 469h5v1h-5zM400 469h4v1h-4zM485 469h1v1h-1zM498 469h2v1h-2zM543 469h1v1h-1zM703 469h2v1h-2zM815 469h2v1h-2zM302 470h2v1h-2zM353 470h4v1h-4zM379 470h1v1h-1zM388 470h2v1h-2zM404 470h6v1h-6zM418 470h5v1h-5zM483 470h2v1h-2zM500 470h2v1h-2zM542 470h1v1h-1zM544 470h1v1h-1zM621 470h4v1h-4zM702 470h1v1h-1zM304 471h1v1h-1zM342 471h11v1h-11zM380 471h1v1h-1zM386 471h2v1h-2zM410 471h8v1h-8zM423 471h1v1h-1zM482 471h1v1h-1zM502 471h3v1h-3zM541 471h1v1h-1zM545 471h1v1h-1zM617 471h4v1h-4zM625 471h2v1h-2zM700 471h2v1h-2zM305 472h1v1h-1zM340 472h2v1h-2zM381 472h2v1h-2zM384 472h2v1h-2zM424 472h1v1h-1zM480 472h2v1h-2zM505 472h4v1h-4zM523 472h5v1h-5zM539 472h2v1h-2zM546 472h1v1h-1zM615 472h2v1h-2zM627 472h2v1h-2zM685 472h4v1h-4zM699 472h1v1h-1zM306 473h1v1h-1zM338 473h2v1h-2zM383 473h1v1h-1zM425 473h1v1h-1zM478 473h2v1h-2zM509 473h14v1h-14zM528 473h2v1h-2zM538 473h1v1h-1zM547 473h2v1h-2zM614 473h1v1h-1zM629 473h2v1h-2zM636 473h4v1h-4zM681 473h4v1h-4zM689 473h2v1h-2zM698 473h1v1h-1zM307 474h2v1h-2zM336 474h2v1h-2zM426 474h2v1h-2zM474 474h4v1h-4zM530 474h2v1h-2zM537 474h1v1h-1zM549 474h1v1h-1zM567 474h9v1h-9zM613 474h1v1h-1zM631 474h5v1h-5zM640 474h2v1h-2zM678 474h3v1h-3zM691 474h3v1h-3zM696 474h2v1h-2zM309 475h1v1h-1zM325 475h11v1h-11zM428 475h1v1h-1zM463 475h11v1h-11zM532 475h2v1h-2zM536 475h1v1h-1zM550 475h1v1h-1zM565 475h2v1h-2zM576 475h2v1h-2zM612 475h1v1h-1zM642 475h1v1h-1zM675 475h3v1h-3zM694 475h2v1h-2zM310 476h1v1h-1zM321 476h4v1h-4zM429 476h1v1h-1zM461 476h2v1h-2zM534 476h2v1h-2zM551 476h2v1h-2zM563 476h2v1h-2zM578 476h1v1h-1zM611 476h1v1h-1zM643 476h2v1h-2zM673 476h2v1h-2zM311 477h10v1h-10zM430 477h1v1h-1zM460 477h1v1h-1zM553 477h2v1h-2zM561 477h2v1h-2zM579 477h2v1h-2zM589 477h12v1h-12zM611 477h1v1h-1zM645 477h2v1h-2zM670 477h3v1h-3zM431 478h10v1h-10zM459 478h1v1h-1zM555 478h2v1h-2zM559 478h2v1h-2zM581 478h2v1h-2zM585 478h4v1h-4zM601 478h2v1h-2zM610 478h1v1h-1zM647 478h10v1h-10zM668 478h2v1h-2zM441 479h2v1h-2zM457 479h2v1h-2zM557 479h2v1h-2zM583 479h2v1h-2zM603 479h2v1h-2zM609 479h1v1h-1zM657 479h2v1h-2zM666 479h2v1h-2zM443 480h3v1h-3zM456 480h1v1h-1zM605 480h2v1h-2zM608 480h1v1h-1zM659 480h3v1h-3zM664 480h2v1h-2zM446 481h10v1h-10zM607 481h1v1h-1zM662 481h2v1h-2z"/><g shape-rendering="crispEdges"><rect x="7" y="525" width="2" height="31" fill="#c0c0c0"/><rect x="14" y="522" width="3" height="34" fill="#c0c0c0"/><rect x="22" y="522" width="3" height="34" fill="#c0c0c0"/><rect x="30" y="515" width="3" height="41" fill="#c0c0c0"/><rect x="38" y="515" width="3" height="41" fill="#c0c0c0"/><rect x="46" y="515" width="3" height="41" fill="#c0c0c0"/><rect x="54" y="515" width="3" height="41" fill="#c0c0c0"/><rect x="62" y="523" width="3" height="33" fill="#c0c0c0"/><rect x="70" y="523" width="3" height="33" fill="#c0c0c0"/><rect x="78" y="523" width="3" height="33" fill="#c0c0c0"/><rect x="86" y="523" width="3" height="33" fill="#c0c0c0"/><rect x="94" y="523" width="3" height="33" fill="#c0c0c0"/><rect x="102" y="523" width="3" height="33" fill="#c0c0c0"/><rect x="110" y="523" width="3" height="33" fill="#c0c0c0"/><rect x="118" y="523" width="3" height="33" fill="#c0c0c0"/><rect x="126" y="523" width="3" height="33" fill="#c0c0c0"/><rect x="134" y="523" width="3" height="33" fill="#c0c0c0"/><rect x="142" y="523" width="3" height="33" fill="#c0c0c0"/><rect x="150" y="523" width="3" height="33" fill="#c0c0c0"/><rect x="158" y="520" width="3" height="36" fill="#c0c0c0"/><rect x="166" y="521" width="3" height="35" fill="#c0c0c0"/><rect x="174" y="518" width="3" height="38" fill="#c0c0c0"/><rect x="182" y="516" width="3" height="40" fill="#c0c0c0"/><rect x="190" y="516" width="3" height="40" fill="#c0c0c0"/><rect x="198" y="517" width="3" height="39" fill="#c0c0c0"/><rect x="206" y="517" width="3" height="39" fill="#c0c0c0"/><rect x="214" y="517" width="3" height="39" fill="#c0c0c0"/><rect x="222" y="519" width="3" height="37" fill="#c0c0c0"/><rect x="230" y="523" width="3" height="33" fill="#c0c0c0"/><rect x="238" y="524" width="3" height="32" fill="#c0c0c0"/><rect x="246" y="525" width="3" height="31" fill="#c0c0c0"/><rect x="254" y="526" width="3" height="30" fill="#c0c0c0"/><rect x="262" y="524" width="3" height="32" fill="#c0c0c0"/><rect x="270" y="522" width="3" height="34" fill="#c0c0c0"/><rect x="278" y="523" width="3" height="33" fill="#c0c0c0"/><rect x="286" y="526" width="3" height="30" fill="#c0c0c0"/><rect x="294" y="529" width="3" height="27" fill="#c0c0c0"/><rect x="302" y="534" width="3" height="22" fill="#c0c0c0"/><rect x="310" y="542" width="3" height="14" fill="#c0c0c0"/><rect x="318" y="548" width="3" height="8" fill="#c0c0c0"/><rect x="326" y="552" width="3" height="4" fill="#c0c0c0"/><rect x="334" y="556" width="3" height="1" fill="#c0c0c0"/><rect x="342" y="556" width="3" height="2" fill="#c0c0c0"/><rect x="350" y="556" width="3" height="3" fill="#c0c0c0"/><rect x="358" y="556" width="3" height="3" fill="#c0c0c0"/><rect x="366" y="556" width="3" height="2" fill="#c0c0c0"/><rect x="374" y="556" width="3" height="1" fill="#c0c0c0"/><rect x="382" y="556" width="3" height="3" fill="#c0c0c0"/><rect x="390" y="556" width="3" height="3" fill="#c0c0c0"/><rect x="398" y="556" width="3" height="3" fill="#c0c0c0"/><rect x="406" y="556" width="3" height="3" fill="#c0c0c0"/><rect x="414" y="556" width="3" height="3" fill="#c0c0c0"/><rect x="422" y="556" width="3" height="3" fill="#c0c0c0"/><rect x="430" y="556" width="3" height="7" fill="#c0c0c0"/><rect x="438" y="556" width="3" height="10" fill="#c0c0c0"/><rect x="446" y="556" width="3" height="13" fill="#c0c0c0"/><rect x="454" y="556" width="3" height="16" fill="#c0c0c0"/><rect x="462" y="556" width="3" height="17" fill="#c0c0c0"/><rect x="470" y="556" width="3" height="17" fill="#c0c0c0"/><rect x="478" y="556" width="3" height="16" fill="#c0c0c0"/><rect x="486" y="556" width="3" height="13" fill="#c0c0c0"/><rect x="494" y="556" width="3" height="10" fill="#c0c0c0"/><rect x="502" y="556" width="3" height="9" fill="#c0c0c0"/><rect x="510" y="556" width="3" height="10" fill="#c0c0c0"/><rect x="518" y="556" width="3" height="10" fill="#c0c0c0"/><rect x="526" y="556" width="3" height="10" fill="#c0c0c0"/><rect x="534" y="556" width="3" height="11" fill="#c0c0c0"/><rect x="542" y="556" width="3" height="11" fill="#c0c0c0"/><rect x="550" y="556" width="3" height="12" fill="#c0c0c0"/><rect x="558" y="556" width="3" height="14" fill="#c0c0c0"/><rect x="566" y="556" width="3" height="16" fill="#c0c0c0"/><rect x="574" y="556" width="3" height="16" fill="#c0c0c0"/><rect x="582" y="556" width="3" height="19" fill="#c0c0c0"/><rect x="590" y="556" width="3" height="20" fill="#c0c0c0"/><rect x="598" y="556" width="3" height="21" fill="#c0c0c0"/><rect x="606" y="556" width="3" height="25" fill="#c0c0c0"/><rect x="614" y="556" width="3" height="22" fill="#c0c0c0"/><rect x="622" y="556" width="3" height="20" fill="#c0c0c0"/><rect x="630" y="556" width="3" height="20" fill="#c0c0c0"/><rect x="638" y="556" width="3" height="20" fill="#c0c0c0"/><rect x="646" y="556" width="3" height="22" fill="#c0c0c0"/><rect x="654" y="556" width="3" height="23" fill="#c0c0c0"/><rect x="662" y="556" width="3" height="26" fill="#c0c0c0"/><rect x="670" y="556" width="3" height="26" fill="#c0c0c0"/><rect x="678" y="556" width="3" height="26" fill="#c0c0c0"/><rect x="686" y="556" width="3" height="22" fill="#c0c0c0"/><rect x="694" y="556" width="3" height="22" fill="#c0c0c0"/><rect x="702" y="556" width="3" height="20" fill="#c0c0c0"/><rect x="710" y="556" width="3" height="14" fill="#c0c0c0"/><rect x="718" y="556" width="3" height="7" fill="#c0c0c0"/><rect x="726" y="556" width="3" height="1" fill="#c0c0c0"/><rect x="734" y="552" width="3" height="4" fill="#c0c0c0"/><rect x="742" y="547" width="3" height="9" fill="#c0c0c0"/><rect x="750" y="544" width="3" height="12" fill="#c0c0c0"/><rect x="758" y="542" width="3" height="14" fill="#c0c0c0"/><rect x="766" y="541" width="3" height="15" fill="#c0c0c0"/><rect x="774" y="542" width="3" height="14" fill="#c0c0c0"/><rect x="782" y="543" width="3" height="13" fill="#c0c0c0"/><rect x="790" y="545" width="3" height="11" fill="#c0c0c0"/><rect x="798" y="545" width="3" height="11" fill="#c0c0c0"/><rect x="806" y="543" width="3" height="13" fill="#c0c0c0"/><rect x="814" y="543" width="3" height="13" fill="#c0c0c0"/><rect x="822" y="544" width="3" height="12" fill="#c0c0c0"/><rect x="830" y="544" width="3" height="12" fill="#c0c0c0"/><rect x="838" y="543" width="3" height="13" fill="#c0c0c0"/><rect x="846" y="540" width="3" height="16" fill="#c0c0c0"/><rect x="854" y="538" width="3" height="18" fill="#c0c0c0"/><rect x="862" y="537" width="3" height="19" fill="#c0c0c0"/><rect x="870" y="535" width="3" height="21" fill="#c0c0c0"/></g><path shape-rendering="crispEdges" fill="#ff0000" d="M65 518h44v1h-44zM194 518h34v1h-34zM61 519h4v1h-4zM109 519h50v1h-50zM184 519h10v1h-10zM228 519h14v1h-14zM57 520h4v1h-4zM159 520h25v1h-25zM242 520h12v1h-12zM54 521h3v1h-3zM254 521h10v1h-10zM52 522h2v1h-2zM264 522h10v1h-10zM49 523h3v1h-3zM274 523h9v1h-9zM47 524h2v1h-2zM283 524h9v1h-9zM45 525h2v1h-2zM292 525h9v1h-9zM43 526h2v1h-2zM301 526h6v1h-6zM41 527h2v1h-2zM307 527h3v1h-3zM40 528h1v1h-1zM310 528h3v1h-3zM38 529h2v1h-2zM313 529h3v1h-3zM37 530h1v1h-1zM316 530h3v1h-3zM35 531h2v1h-2zM319 531h3v1h-3zM34 532h1v1h-1zM322 532h3v1h-3zM32 533h2v1h-2zM325 533h3v1h-3zM31 534h1v1h-1zM328 534h2v1h-2zM30 535h1v1h-1zM330 535h3v1h-3zM29 536h1v1h-1zM333 536h3v1h-3zM28 537h1v1h-1zM336 537h3v1h-3zM27 538h1v1h-1zM339 538h2v1h-2zM25 539h2v1h-2zM341 539h2v1h-2zM24 540h1v1h-1zM343 540h2v1h-2zM869 540h3v1h-3zM23 541h1v1h-1zM345 541h2v1h-2zM865 541h4v1h-4zM22 542h1v1h-1zM347 542h2v1h-2zM861 542h4v1h-4zM21 543h1v1h-1zM349 543h2v1h-2zM800 543h61v1h-61zM20 544h1v1h-1zM351 544h3v1h-3zM796 544h4v1h-4zM19 545h1v1h-1zM354 545h2v1h-2zM792 545h4v1h-4zM18 546h1v1h-1zM356 546h3v1h-3zM788 546h4v1h-4zM17 547h1v1h-1zM359 547h2v1h-2zM784 547h4v1h-4zM16 548h1v1h-1zM361 548h3v1h-3zM782 548h2v1h-2zM15 549h1v1h-1zM364 549h2v1h-2zM779 549h3v1h-3zM13 550h2v1h-2zM366 550h2v1h-2zM777 550h2v1h-2zM12 551h1v1h-1zM368 551h2v1h-2zM774 551h3v1h-3zM11 552h1v1h-1zM370 552h2v1h-2zM772 552h2v1h-2zM10 553h1v1h-1zM372 553h3v1h-3zM769 553h3v1h-3zM9 554h1v1h-1zM375 554h3v1h-3zM767 554h2v1h-2zM8 555h1v1h-1zM378 555h5v1h-5zM765 555h2v1h-2zM7 556h1v1h-1zM383 556h4v1h-4zM763 556h2v1h-2zM387 557h25v1h-25zM761 557h2v1h-2zM412 558h24v1h-24zM759 558h2v1h-2zM436 559h8v1h-8zM757 559h2v1h-2zM444 560h6v1h-6zM754 560h3v1h-3zM450 561h8v1h-8zM752 561h2v1h-2zM458 562h5v1h-5zM750 562h2v1h-2zM463 563h5v1h-5zM748 563h2v1h-2zM468 564h5v1h-5zM746 564h2v1h-2zM473 565h4v1h-4zM744 565h2v1h-2zM477 566h5v1h-5zM533 566h41v1h-41zM742 566h2v1h-2zM482 567h11v1h-11zM525 567h8v1h-8zM574 567h8v1h-8zM740 567h2v1h-2zM493 568h32v1h-32zM582 568h6v1h-6zM738 568h2v1h-2zM588 569h4v1h-4zM736 569h2v1h-2zM592 570h4v1h-4zM734 570h2v1h-2zM596 571h4v1h-4zM732 571h2v1h-2zM600 572h7v1h-7zM730 572h2v1h-2zM607 573h9v1h-9zM728 573h2v1h-2zM616 574h13v1h-13zM724 574h4v1h-4zM629 575h18v1h-18zM720 575h4v1h-4zM647 576h12v1h-12zM716 576h4v1h-4zM659 577h8v1h-8zM712 577h4v1h-4zM667 578h45v1h-45z"/><g shape-rendering="crispEdges" fill="#000"><rect x="6" y="29" width="1104" height="1"/><rect x="6" y="29" width="1" height="558"/><rect x="1109" y="29" width="1" height="558"/><rect x="6" y="427" width="1104" height="1"/><rect x="6" y="429" width="1104" height="1"/><rect x="6" y="508" width="1104" height="1"/><rect x="6" y="510" width="1104" height="1"/><rect x="6" y="586" width="1104" height="1"/><rect x="6" y="428" width="1104" height="1" fill="#fff"/><rect x="6" y="509" width="1104" height="1" fill="#fff"/><rect x="1110" y="61" width="2" height="1"/><rect x="1110" y="94" width="2" height="1"/><rect x="1110" y="127" width="2" height="1"/><rect x="1110" y="160" width="2" height="1"/><rect x="1110" y="193" width="2" height="1"/><rect x="1110" y="226" width="2" height="1"/><rect x="1110" y="259" width="2" height="1"/><rect x="1110" y="292" width="2" height="1"/><rect x="1110" y="325" width="2" height="1"/><rect x="1110" y="358" width="2" height="1"/><rect x="1110" y="391" width="2" height="1"/><rect x="1110" y="424" width="2" height="1"/><rect x="1110" y="429" width="1" height="1"/><rect x="1110" y="508" width="1" height="1"/><rect x="1110" y="510" width="1" height="1"/><rect x="1110" y="586" width="1" height="1"/><rect x="1110" y="556" width="2" height="1"/><rect x="7" y="587" width="1" height="3"/><rect x="71" y="587" width="1" height="3"/><rect x="135" y="587" width="1" height="3"/><rect x="199" y="587" width="1" height="3"/><rect x="263" y="587" width="1" height="3"/><rect x="327" y="587" width="1" height="3"/><rect x="391" y="587" width="1" height="3"/><rect x="455" y="587" width="1" height="3"/><rect x="519" y="587" width="1" height="3"/><rect x="583" y="587" width="1" height="3"/><rect x="647" y="587" width="1" height="3"/><rect x="711" y="587" width="1" height="3"/><rect x="775" y="587" width="1" height="3"/><rect x="839" y="587" width="1" height="3"/><rect x="1111" y="141" width="41" height="10"/><rect x="10" y="36" width="7" height="1"/><rect x="11" y="37" width="5" height="1"/><rect x="12" y="38" width="3" height="1"/><rect x="13" y="39" width="1" height="1"/></g>
<path d="M1128 614.5 L1124.6 618 L1128 621.5 Z" fill="#8a8a8a"/>
<path d="M1144 614.5 L1147.4 618 L1144 621.5 Z" fill="#8a8a8a"/>
</svg>
<div class="t s" style="left:1115.5px;top:55.26px;font-size:10.6px;color:#000;"><span class="n">1</span>.<span class="n">01150</span></div><div class="t s" style="left:1115.5px;top:88.26px;font-size:10.6px;color:#000;"><span class="n">1</span>.<span class="n">00780</span></div><div class="t s" style="left:1115.5px;top:121.26px;font-size:10.6px;color:#000;"><span class="n">1</span>.<span class="n">00400</span></div><div class="t s" style="left:1115.5px;top:154.26px;font-size:10.6px;color:#000;"><span class="n">1</span>.<span class="n">00030</span></div><div class="t s" style="left:1115.5px;top:187.26px;font-size:10.6px;color:#000;"><span class="n">0</span>.<span class="n">99660</span></div><div class="t s" style="left:1115.5px;top:220.26px;font-size:10.6px;color:#000;"><span class="n">0</span>.<span class="n">99290</span></div><div class="t s" style="left:1115.5px;top:253.26px;font-size:10.6px;color:#000;"><span class="n">0</span>.<span class="n">98920</span></div><div class="t s" style="left:1115.5px;top:286.26px;font-size:10.6px;color:#000;"><span class="n">0</span>.<span class="n">98550</span></div><div class="t s" style="left:1115.5px;top:319.26px;font-size:10.6px;color:#000;"><span class="n">0</span>.<span class="n">98180</span></div><div class="t s" style="left:1115.5px;top:352.26px;font-size:10.6px;color:#000;"><span class="n">0</span>.<span class="n">97810</span></div><div class="t s" style="left:1115.5px;top:385.26px;font-size:10.6px;color:#000;"><span class="n">0</span>.<span class="n">97440</span></div><div class="t s" style="left:1115.5px;top:418.26px;font-size:10.6px;color:#000;"><span class="n">0</span>.<span class="n">97070</span></div><div class="t s" style="left:1115.5px;top:140.26px;font-size:10.6px;color:#fff;"><span class="n">1</span>.<span class="n">00207</span></div><div class="t s" style="left:1113.5px;top:429.76px;font-size:10.6px;color:#000;"><span class="n">100</span></div><div class="t s" style="left:1112.5px;top:447.76px;font-size:10.6px;color:#000;"><span class="n">70</span></div><div class="t s" style="left:1112.5px;top:477.76px;font-size:10.6px;color:#000;"><span class="n">30</span></div><div class="t s" style="left:1113.5px;top:494.26px;font-size:10.6px;color:#000;"><span class="n">0</span></div><div class="t s" style="left:1113.5px;top:511.26px;font-size:10.6px;color:#000;"><span class="n">0</span>.<span class="n">005985</span></div><div class="t s" style="left:1113.5px;top:550.26px;font-size:10.6px;color:#000;"><span class="n">0</span>.<span class="n">00</span></div><div class="t s" style="left:1112.5px;top:572.76px;font-size:10.6px;color:#000;">-<span class="n">0</span>.<span class="n">003954</span></div><div class="t s" style="left:22px;top:31.26px;font-size:10.6px;color:#000;">USDCHF,Daily</div><div class="t s" style="left:93.5px;top:31.26px;font-size:10.6px;color:#000;word-spacing:0.8px;"><span class="n">1</span>.<span class="n">00077</span> <span class="n">1</span>.<span class="n">00268</span> <span class="n">0</span>.<span class="n">99995</span> <span class="n">1</span>.<span class="n">00207</span></div><div class="t s" style="left:11px;top:432.26px;font-size:10.6px;color:#000;">RSI(<span class="n">14</span>) <span class="n">63</span>.<span class="n">7385</span></div><div class="t s" style="left:11px;top:513.26px;font-size:10.6px;color:#000;">MACD(<span class="n">12</span>,<span class="n">26</span>,<span class="n">9</span>) <span class="n">0</span>.<span class="n">002850</span> <span class="n">0</span>.<span class="n">002063</span></div><div class="t s" style="left:6px;top:588.76px;font-size:10.6px;color:#000;"><span class="n">5</span> Oct <span class="n">2018</span></div><div class="t s" style="left:70px;top:588.76px;font-size:10.6px;color:#000;"><span class="n">15</span> Oct <span class="n">2018</span></div><div class="t s" style="left:134px;top:588.76px;font-size:10.6px;color:#000;"><span class="n">24</span> Oct <span class="n">2018</span></div><div class="t s" style="left:198px;top:588.76px;font-size:10.6px;color:#000;"><span class="n">2</span> Nov <span class="n">2018</span></div><div class="t s" style="left:262px;top:588.76px;font-size:10.6px;color:#000;"><span class="n">12</span> Nov <span class="n">2018</span></div><div class="t s" style="left:326px;top:588.76px;font-size:10.6px;color:#000;"><span class="n">21</span> Nov <span class="n">2018</span></div><div class="t s" style="left:390px;top:588.76px;font-size:10.6px;color:#000;"><span class="n">30</span> Nov <span class="n">2018</span></div><div class="t s" style="left:454px;top:588.76px;font-size:10.6px;color:#000;"><span class="n">10</span> Dec <span class="n">2018</span></div><div class="t s" style="left:518px;top:588.76px;font-size:10.6px;color:#000;"><span class="n">19</span> Dec <span class="n">2018</span></div><div class="t s" style="left:582px;top:588.76px;font-size:10.6px;color:#000;"><span class="n">28</span> Dec <span class="n">2018</span></div><div class="t s" style="left:646px;top:588.76px;font-size:10.6px;color:#000;"><span class="n">7</span> Jan <span class="n">2019</span></div><div class="t s" style="left:710px;top:588.76px;font-size:10.6px;color:#000;"><span class="n">16</span> Jan <span class="n">2019</span></div><div class="t s" style="left:774px;top:588.76px;font-size:10.6px;color:#000;"><span class="n">25</span> Jan <span class="n">2019</span></div><div class="t s" style="left:838px;top:588.76px;font-size:10.6px;color:#000;"><span class="n">4</span> Feb <span class="n">2019</span></div><div class="t" style="left:16.3px;top:7.6px;font-size:10.2px;color:#383838;transform:scaleX(0.96);transform-origin:0 0;">H4</div><div class="t" style="left:45.3px;top:7.6px;font-size:10.2px;color:#383838;transform:scaleX(0.96);transform-origin:0 0;">D1</div><div class="t" style="left:73px;top:7.6px;font-size:10.2px;color:#383838;transform:scaleX(0.96);transform-origin:0 0;">W1</div><div class="t" style="left:99.7px;top:7.6px;font-size:10.2px;color:#383838;transform:scaleX(0.96);transform-origin:0 0;">MN</div><div class="t" style="left:20px;top:613.3px;font-size:12px;color:#8c8c8c;">EURUSD,Daily</div><div class="t" style="left:124px;top:613.3px;font-size:12px;color:#8c8c8c;">AUDUSD,Daily</div><div class="t" style="left:226px;top:613.3px;font-size:12px;color:#000;">USDCHF,Daily</div><div class="t" style="left:328px;top:613.3px;font-size:12px;color:#8c8c8c;">USDCAD,Daily</div><div class="t" style="left:430px;top:613.3px;font-size:12px;color:#8c8c8c;">USDCNH,Daily</div><div class="t" style="left:535px;top:613.3px;font-size:12px;color:#8c8c8c;">EURGBP,Daily</div><div class="t" style="left:636px;top:613.3px;font-size:12px;color:#8c8c8c;">NZDUSD,H1</div><div class="t" style="left:729px;top:613.3px;font-size:12px;color:#8c8c8c;">GBPUSD,Daily</div>
</div>
</body></html>
